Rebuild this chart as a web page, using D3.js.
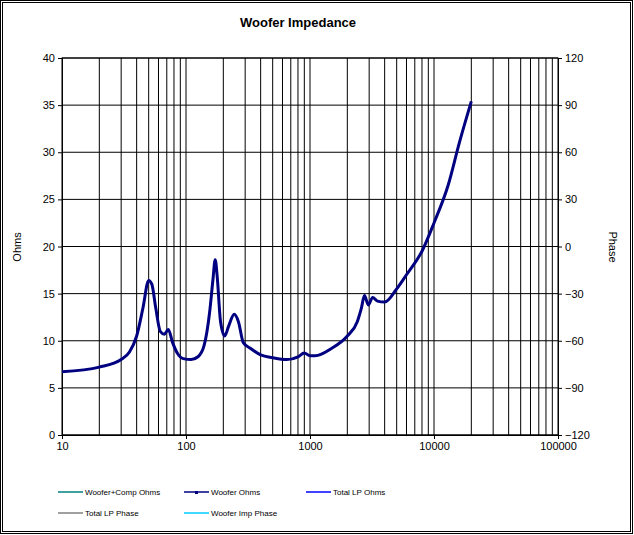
<!DOCTYPE html>
<html><head><meta charset="utf-8">
<script src="https://cdn.jsdelivr.net/npm/d3@7"></script>
<style>body{margin:0;background:#fff}svg{font-family:"Liberation Sans",Arial,sans-serif}</style>
</head><body><div id="chart"></div>
<script>
const freqs = [10,20,30,35,40,45,50,53,57,62,67,72,78,85,95,110,125,140,155,165,172,178,190,205,220,245,265,290,330,400,500,650,800,900,1000,1100,1500,2000,2400,2600,2750,2950,3200,3500,4000,5000,6000,8000,10000,13000,16000,20000]
const wooferOhms = [6.7,7.2,8.0,8.8,10.5,13.5,16.4,16.0,13.5,11.0,10.7,11.2,9.8,8.7,8.1,8.0,8.3,9.5,13,16.5,18.6,17,12,10.5,11.5,12.8,12.0,9.8,9.2,8.5,8.2,8.0,8.3,8.7,8.4,8.4,9.2,10.5,12,13.5,14.8,13.8,14.6,14.2,14.1,15.5,17,19.5,22.5,26.5,31,35.4]
const xTicks = [10,100,1000,10000,100000]
const ohmTicks = [0,5,10,15,20,25,30,35,40]
const phaseTicks = [-120,-90,-60,-30,0,30,60,90,120]
const legendItems = [
  {name:'Woofer+Comp Ohms', color:'#008080'},
  {name:'Woofer Ohms', color:'#000080'},
  {name:'Total LP Ohms', color:'#0000ff'},
  {name:'Total LP Phase', color:'#808080'},
  {name:'Woofer Imp Phase', color:'#00ccff'}
]

const svg = d3.select('#chart').append('svg').attr('width',634).attr('height',535)
svg.append('rect').attr('x',0.5).attr('y',0.5).attr('width',632).attr('height',533)
  .attr('fill','#fff').attr('stroke','#000')
svg.append('rect').attr('x',2.5).attr('y',2.5).attr('width',628).attr('height',529)
  .attr('fill','none').attr('stroke','#000')

const x = d3.scaleLog().domain([10,100000]).range([62,558])
const y = d3.scaleLinear().domain([0,40]).range([435,58])
const y2 = d3.scaleLinear().domain([-120,120]).range([435,58])

// grid
const minor = []
for (let d=10; d<100000; d*=10) for (let k=1; k<10; k++) minor.push(d*k)
svg.append('g').selectAll('line').data(minor.slice(1)).join('line')
  .attr('x1',d=>x(d)).attr('x2',d=>x(d)).attr('y1',58).attr('y2',435).attr('stroke','#000')
svg.append('g').selectAll('line').data(ohmTicks).join('line')
  .attr('x1',62).attr('x2',558).attr('y1',d=>y(d)).attr('y2',d=>y(d)).attr('stroke','#000')
svg.append('rect').attr('x',62).attr('y',58).attr('width',496).attr('height',377)
  .attr('fill','none').attr('stroke','#000')

svg.append('g').attr('transform','translate(62,0)')
  .call(d3.axisLeft(y).tickValues(ohmTicks).tickSize(4).tickSizeOuter(0))
svg.append('g').attr('transform','translate(558,0)')
  .call(d3.axisRight(y2).tickValues(phaseTicks).tickSize(4).tickSizeOuter(0))
svg.append('g').attr('transform','translate(0,435)')
  .call(d3.axisBottom(x).tickValues(xTicks).tickFormat(d3.format('d')).tickSize(4).tickSizeOuter(0))
svg.selectAll('.tick text').attr('font-size',11).attr('font-family','Liberation Sans, Arial').attr('fill','#000')
svg.selectAll('.domain').attr('stroke','#000')

svg.append('text').attr('x',298).attr('y',27).attr('text-anchor','middle')
  .attr('font-size',13).attr('font-weight','bold').text('Woofer  Impedance')
svg.append('text').attr('transform','translate(21,247) rotate(-90)').attr('text-anchor','middle')
  .attr('font-size',11).text('Ohms')
svg.append('text').attr('transform','translate(609,247) rotate(90)').attr('text-anchor','middle')
  .attr('font-size',11).text('Phase')

svg.append('path').datum(freqs.map((f,i)=>[f,wooferOhms[i]]))
  .attr('d', d3.line().x(d=>x(d[0])).y(d=>y(d[1])).curve(d3.curveMonotoneX))
  .attr('fill','none').attr('stroke','#000080').attr('stroke-width',3)

// legend
const pos = [[58,492],[184,492],[306,492],[58,513],[184,513]]
const lg = svg.append('g').selectAll('g').data(legendItems).join('g')
  .attr('transform',(d,i)=>`translate(${pos[i][0]},${pos[i][1]})`)
lg.append('line').attr('x1',0).attr('x2',25).attr('stroke',d=>d.color).attr('stroke-width',1.5)
lg.filter(d=>d.name==='Woofer Ohms').append('rect').attr('x',11).attr('y',-1).attr('width',3).attr('height',3).attr('fill','#000080')
lg.append('text').attr('x',27).attr('y',3).attr('font-size',8).text(d=>d.name)
</script></body></html>
